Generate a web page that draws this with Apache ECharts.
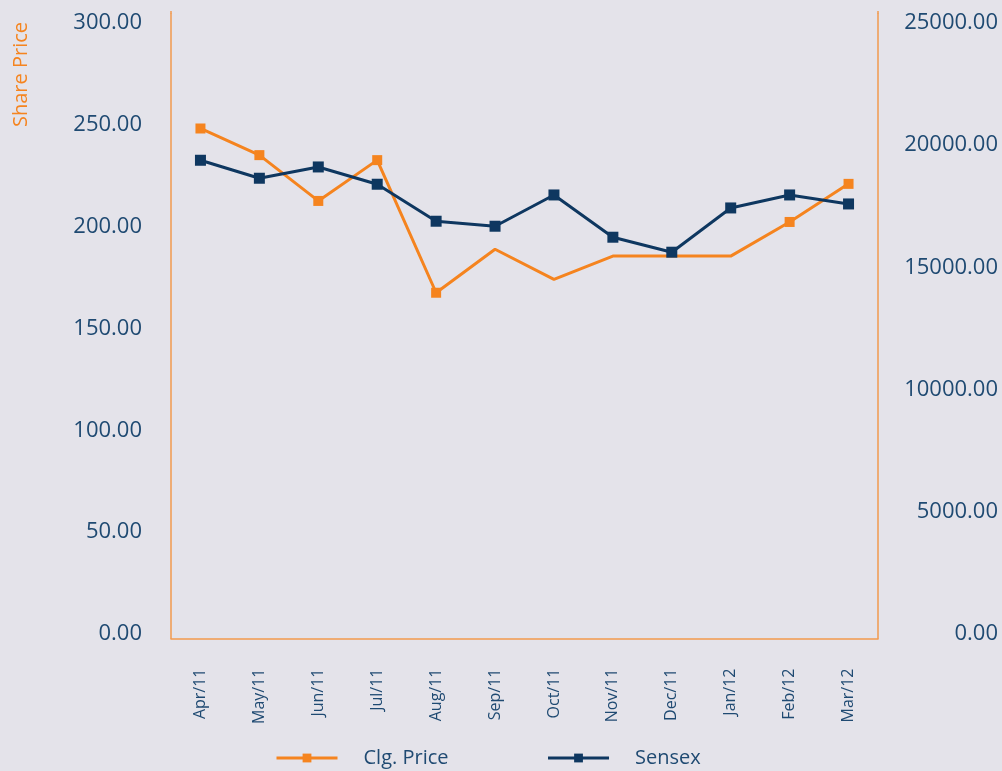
<!DOCTYPE html>
<html>
<head>
<meta charset="utf-8">
<script src="https://cdn.jsdelivr.net/npm/echarts@6/dist/echarts.min.js"></script>
<style>
html,body{margin:0;padding:0;background:#e4e3ea;}
#c{width:1002px;height:771px;}
</style>
</head>
<body>
<div id="c"></div>
<script>
const categories = ['Apr/11','May/11','Jun/11','Jul/11','Aug/11','Sep/11','Oct/11','Nov/11','Dec/11','Jan/12','Feb/12','Mar/12'];
const clgPrice = [245.0, 232.2, 210.2, 229.8, 166.1, 187.0, 172.5, 183.7, 183.7, 183.7, 200.1, 218.4];
const sensex = [19145, 18425, 18877, 18185, 16704, 16504, 17756, 16064, 15464, 17236, 17756, 17396];
const leftTicks = [0, 50, 100, 150, 200, 250, 300];
const rightTicks = [0, 5000, 10000, 15000, 20000, 25000];
const seriesNames = ['Clg. Price', 'Sensex'];
const leftAxisTitle = 'Share Price';
const hiddenPriceMarkers = [5, 6, 7, 8, 9];

const ORANGE = '#f5841f';
const NAVY = '#0e3760';
const AXIS = '#f29a4e';
const LABEL = '#1f4a72';
const FONT = '"Open Sans", "Noto Sans", sans-serif';

const chart = echarts.init(document.getElementById('c'), null, {renderer: 'canvas'});
const option = {
  backgroundColor: '#e4e3ea',
  animation: false,
  textStyle: {fontFamily: FONT},
  grid: [
    {left: 171, right: 124, top: 14, bottom: 132.5},
    {left: 171, right: 124, top: 23, bottom: 137}
  ],
  graphic: [{
    type: 'text', x: 21, y: 74.5, rotation: Math.PI / 2,
    style: {text: leftAxisTitle, fill: ORANGE, font: '20px ' + FONT, textAlign: 'center', textVerticalAlign: 'middle'}
  }, {
    type: 'line', shape: {x1: 171, y1: 11, x2: 171, y2: 14},
    style: {stroke: AXIS, lineWidth: 1.5}
  }, {
    type: 'line', shape: {x1: 878, y1: 11, x2: 878, y2: 14},
    style: {stroke: AXIS, lineWidth: 1.5}
  }],
  xAxis: [
    {
      type: 'category', gridIndex: 0, data: categories, boundaryGap: true,
      axisLine: {show: true, lineStyle: {color: AXIS, width: 1.5}},
      axisTick: {show: false},
      axisLabel: {rotate: 90, margin: 30, color: LABEL, fontSize: 16, fontFamily: FONT, interval: 0}
    },
    {type: 'category', gridIndex: 1, data: categories, show: false}
  ],
  yAxis: [
    {
      type: 'value', gridIndex: 0, position: 'left', min: leftTicks[0], max: leftTicks[leftTicks.length-1], interval: 50,
      axisLine: {show: true, lineStyle: {color: AXIS, width: 1.5}},
      axisTick: {show: false}, axisLabel: {show: false}, splitLine: {show: false}
    },
    {
      type: 'value', gridIndex: 0, position: 'right', min: rightTicks[0], max: rightTicks[rightTicks.length-1], interval: 5000,
      axisLine: {show: true, lineStyle: {color: AXIS, width: 1.5}},
      axisTick: {show: false}, axisLabel: {show: false}, splitLine: {show: false}
    },
    {
      type: 'value', gridIndex: 1, position: 'left', min: leftTicks[0], max: leftTicks[leftTicks.length-1], interval: 50,
      axisLine: {show: false}, axisTick: {show: false}, splitLine: {show: false},
      axisLabel: {margin: 29, color: LABEL, fontSize: 22, fontFamily: FONT, formatter: v => v.toFixed(2)}
    },
    {
      type: 'value', gridIndex: 1, position: 'right', min: rightTicks[0], max: rightTicks[rightTicks.length-1], interval: 5000,
      axisLine: {show: false}, axisTick: {show: false}, splitLine: {show: false},
      axisLabel: {margin: 120, align: 'right', color: LABEL, fontSize: 22, fontFamily: FONT, formatter: v => v.toFixed(2)}
    }
  ],
  legend: {
    bottom: -2, left: 270,
    itemWidth: 61, itemHeight: 11, itemGap: 98,
    lineStyle: {width: 3},
    textStyle: {color: LABEL, fontSize: 20, fontFamily: FONT, padding: [0, 0, 0, 21]},
    data: seriesNames
  },
  series: [
    {
      name: seriesNames[0], type: 'line', xAxisIndex: 0, yAxisIndex: 0,
      data: clgPrice.map((v, i) => hiddenPriceMarkers.includes(i) ? {value: v, symbol: 'none'} : v),
      symbol: 'rect', symbolSize: 10, showAllSymbol: true,
      lineStyle: {color: ORANGE, width: 3}, itemStyle: {color: ORANGE}
    },
    {
      name: seriesNames[1], type: 'line', xAxisIndex: 0, yAxisIndex: 1,
      data: sensex,
      symbol: 'rect', symbolSize: 11, showAllSymbol: true,
      lineStyle: {color: NAVY, width: 3}, itemStyle: {color: NAVY}
    }
  ]
};
chart.setOption(option);
</script>
</body>
</html>
